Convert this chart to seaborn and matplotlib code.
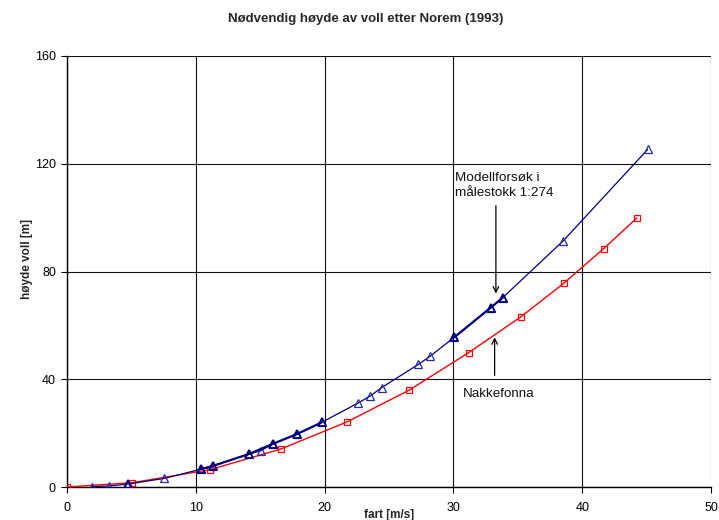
import numpy as np
import pandas as pd
import matplotlib
matplotlib.use("Agg")
import matplotlib.pyplot as plt
import seaborn as sns

# Model test (scale 1:274)
model_speed = [1.91, 3.29, 4.76, 7.56, 10.38, 11.31, 14.1, 15.06, 15.97, 17.88, 19.78,
               22.57, 23.52, 24.43, 27.27, 28.18, 30.05, 32.9, 33.83, 38.53, 45.08]
model_height = [0.1, 0.4, 1.1, 3.2, 6.6, 7.8, 12.2, 13.5, 16.0, 19.7, 24.0,
                31.1, 33.7, 36.9, 45.5, 48.5, 55.5, 66.6, 70.3, 91.4, 125.3]

# Repeated model runs that lie on top of the main curve
repeat_speed = [4.76, 10.38, 11.31, 14.1, 15.97, 17.88, 19.78, 30.05, 32.9, 33.83]
repeat_height = [1.1, 6.6, 7.8, 12.2, 16.0, 19.7, 24.0, 55.5, 66.6, 70.3]
repeat_run = [1, 2, 2, 2, 2, 2, 2, 3, 3, 3]

# Nakkefonna
nakke_speed = [0.0, 5.07, 11.08, 16.6, 21.76, 26.58, 31.19, 35.25, 38.56, 41.67, 44.25]
nakke_height = [0.0, 1.6, 6.4, 14.1, 24.2, 36.0, 49.9, 63.2, 75.6, 88.5, 99.9]

x_ticks = [0, 10, 20, 30, 40, 50]
y_ticks = [0, 40, 80, 120, 160]

sns.set_style("white")
plt.rcParams["font.family"] = ["Liberation Sans", "DejaVu Sans"]

model = pd.DataFrame({"fart": model_speed, "hoyde": model_height})
repeat = pd.DataFrame({"fart": repeat_speed, "hoyde": repeat_height, "run": repeat_run})
nakke = pd.DataFrame({"fart": nakke_speed, "hoyde": nakke_height})

fig = plt.figure(figsize=(7.19, 5.20), dpi=100)
ax = fig.add_axes([67 / 719, 33 / 520, 644 / 719, 431 / 520])

navy = "#000080"
red = "#FF0000"

sns.lineplot(data=nakke, x="fart", y="hoyde", ax=ax, color=red, lw=1.0,
             marker="s", markersize=4.5, markerfacecolor="none",
             markeredgecolor=red, markeredgewidth=0.9, zorder=4)
sns.lineplot(data=model, x="fart", y="hoyde", ax=ax, color=navy, lw=0.9,
             marker="^", markersize=5.5, markerfacecolor="none",
             markeredgecolor="#2a2aa0", markeredgewidth=0.9, zorder=5)
sns.lineplot(data=repeat, x="fart", y="hoyde", units="run", estimator=None,
             ax=ax, color=navy, lw=1.6, marker="^", markersize=5.5,
             markerfacecolor="none", markeredgecolor=navy,
             markeredgewidth=1.3, zorder=6)

ax.set_xlim(0, 50)
ax.set_ylim(0, 160)
ax.set_xticks(x_ticks)
ax.set_yticks(y_ticks)
ax.grid(True, color="#111111", lw=0.8)
ax.set_axisbelow(True)
for side in ["top", "right"]:
    ax.spines[side].set_visible(False)
for side in ["left", "bottom"]:
    ax.spines[side].set_color("black")
    ax.spines[side].set_linewidth(1.0)
ax.tick_params(axis="both", direction="out", length=4, width=0.8,
               color="black", labelsize=9, colors="black")
ax.tick_params(axis="x", pad=7)
ax.tick_params(axis="y", pad=4)
ax.tick_params(left=True, bottom=True)

ax.set_xlabel("fart [m/s]", fontsize=8.5, fontweight="bold")
ax.set_ylabel("høyde voll [m]", fontsize=8.5, fontweight="bold")
ax.xaxis.set_label_coords(0.5, -0.05)
ax.yaxis.set_label_coords(-0.053, 0.529)

fig.text(0.509, 1 - 19 / 520, "Nødvendig høyde av voll etter Norem (1993)",
         ha="center", va="center", fontsize=9.5, fontweight="bold")

ax.annotate("", xy=(33.3, 70.8), xytext=(33.3, 105.5),
            arrowprops=dict(arrowstyle="->", color="black", lw=0.9))
ax.text(30.15, 112.0, "Modellforsøk i\nmålestokk 1:274", fontsize=9.7,
        ha="left", va="center", linespacing=1.3, color="#111111")

ax.annotate("", xy=(33.2, 56.6), xytext=(33.2, 40.4),
            arrowprops=dict(arrowstyle="->", color="black", lw=0.9))
ax.text(30.7, 34.5, "Nakkefonna", fontsize=9.6, ha="left", va="center",
        color="#111111")

leg = ax.get_legend()
if leg is not None:
    leg.remove()

fig.savefig("out.png", dpi=100)
